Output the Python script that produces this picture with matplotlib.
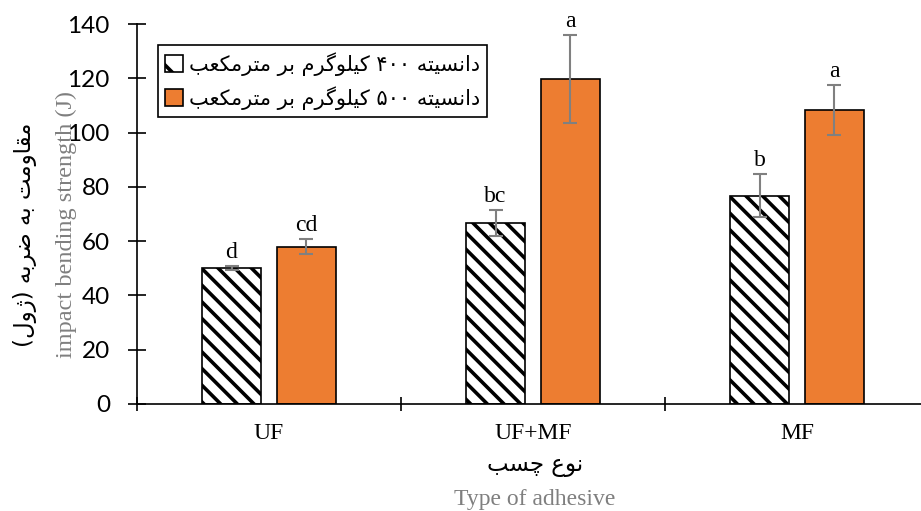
import re
import numpy as np
import matplotlib
matplotlib.use("Agg")
import matplotlib.pyplot as plt
from matplotlib.patches import Patch

# ---------------- data ----------------
categories = ["UF", "UF+MF", "MF"]
values_400 = [50.0, 66.7, 76.8]
errors_400 = [0.8, 4.8, 8.0]
values_500 = [58.0, 119.7, 108.3]
errors_500 = [2.7, 16.2, 9.3]
letters_400 = ["d", "bc", "b"]
letters_500 = ["cd", "a", "a"]
series_labels = ["دانسیته ۴۰۰ کیلوگرم بر مترمکعب", "دانسیته ۵۰۰ کیلوگرم بر مترمکعب"]
ylabel_fa = "مقاومت به ضربه (ژول)"
ylabel_en = "impact bending strength (J)"
xlabel_fa = "نوع چسب"
xlabel_en = "Type of adhesive"
yticks = [0, 20, 40, 60, 80, 100, 120, 140]

# ---------------- simple Persian shaping ----------------
FORMS = {
    "\u0627": ("\uFE8D", "\uFE8E", None, None),
    "\u0628": ("\uFE8F", "\uFE90", "\uFE91", "\uFE92"),
    "\u062A": ("\uFE95", "\uFE96", "\uFE97", "\uFE98"),
    "\u0686": ("\uFB7A", "\uFB7B", "\uFB7C", "\uFB7D"),
    "\u062F": ("\uFEA9", "\uFEAA", None, None),
    "\u0631": ("\uFEAD", "\uFEAE", None, None),
    "\u0698": ("\uFB8A", "\uFB8B", None, None),
    "\u0633": ("\uFEB1", "\uFEB2", "\uFEB3", "\uFEB4"),
    "\u0636": ("\uFEBD", "\uFEBE", "\uFEBF", "\uFEC0"),
    "\u0639": ("\uFEC9", "\uFECA", "\uFECB", "\uFECC"),
    "\u0642": ("\uFED5", "\uFED6", "\uFED7", "\uFED8"),
    "\u06A9": ("\uFB8E", "\uFB8F", "\uFB90", "\uFB91"),
    "\u06AF": ("\uFB92", "\uFB93", "\uFB94", "\uFB95"),
    "\u0644": ("\uFEDD", "\uFEDE", "\uFEDF", "\uFEE0"),
    "\u0645": ("\uFEE1", "\uFEE2", "\uFEE3", "\uFEE4"),
    "\u0646": ("\uFEE5", "\uFEE6", "\uFEE7", "\uFEE8"),
    "\u0647": ("\uFEE9", "\uFEEA", "\uFEEB", "\uFEEC"),
    "\u0648": ("\uFEED", "\uFEEE", None, None),
    "\u06CC": ("\uFBFC", "\uFBFD", "\uFBFE", "\uFBFF"),
}


def shape(s):
    out = []
    for i, c in enumerate(s):
        if c not in FORMS:
            out.append(c)
            continue
        prev = s[i - 1] if i > 0 else None
        nxt = s[i + 1] if i + 1 < len(s) else None
        jp = prev in FORMS and FORMS[prev][2] is not None
        jn = nxt in FORMS and FORMS[c][2] is not None
        iso, fin, ini, med = FORMS[c]
        if jp and jn:
            out.append(med)
        elif jp:
            out.append(fin)
        elif jn:
            out.append(ini)
        else:
            out.append(iso)
    return "".join(out)


def rtl(s):
    shaped = shape(s)
    tokens = re.findall(r"[0-9\u06F0-\u06F9A-Za-z]+|.", shaped)
    mirror = {"(": ")", ")": "("}
    return "".join(mirror.get(t, t) for t in reversed(tokens))


# ---------------- figure ----------------
plt.rcParams["hatch.linewidth"] = 2.6
plt.rcParams["hatch.color"] = "black"
FA = ["DejaVu Sans"]
SERIF = ["Liberation Serif", "DejaVu Serif"]

W, H = 921, 511
fig = plt.figure(figsize=(W / 100, H / 100), dpi=100)
ax = fig.add_axes([137 / W, 1 - 404 / H, (929 - 137) / W, (404 - 24) / H])

x = np.arange(len(categories))
bw = 0.227
off = 0.142
orange = "#ED7D31"
ecol = "#808080"
HATCH = "\\\\"

ax.bar(x - off, values_400, bw, facecolor="white", edgecolor="black",
       hatch=HATCH, linewidth=1.2, zorder=2)
ax.bar(x + off, values_500, bw, facecolor=orange, edgecolor="black",
       linewidth=1.2, zorder=2)
ax.errorbar(x - off, values_400, yerr=errors_400, fmt="none", ecolor=ecol,
            elinewidth=1.5, capsize=5, capthick=1.5, zorder=3)
ax.errorbar(x + off, values_500, yerr=errors_500, fmt="none", ecolor=ecol,
            elinewidth=1.5, capsize=5, capthick=1.5, zorder=3)

for xi, v, e, t in zip(x - off, values_400, errors_400, letters_400):
    ax.text(xi, v + e + 3.0, t, ha="center", va="baseline", fontsize=17,
            family=SERIF, color="black")
for xi, v, e, t in zip(x + off, values_500, errors_500, letters_500):
    ax.text(xi, v + e + 3.0, t, ha="center", va="baseline", fontsize=17,
            family=SERIF, color="black")

ax.set_xlim(-0.5, 2.5)
ax.set_ylim(0, 140)
ax.set_yticks(yticks)
ax.set_yticklabels([str(t) for t in yticks], family=["Lato"], fontsize=17.5)
ax.tick_params(axis="y", direction="inout", length=13, width=1.2, pad=13)

ax.set_xticks([-0.5, 0.5, 1.5, 2.5])
ax.set_xticklabels([])
ax.tick_params(axis="x", which="major", direction="inout", length=10, width=1.2)
ax.set_xticks(x, minor=True)
ax.set_xticklabels(categories, minor=True, family=SERIF, fontsize=17)
ax.tick_params(axis="x", which="minor", length=0, pad=14)

for s in ["top", "right"]:
    ax.spines[s].set_visible(False)
for s in ["left", "bottom"]:
    ax.spines[s].set_linewidth(1.2)

# labels
fig.text(25 / W, 1 - 235 / H, rtl(ylabel_fa), rotation=90, ha="center",
         va="center", fontsize=16.5, family=FA, color="black")
fig.text(66 / W, 1 - 224 / H, ylabel_en, rotation=90, ha="center",
         va="center", fontsize=17.5, family=SERIF, color="#7f7f7f")
fig.text(535 / W, 1 - 465 / H, rtl(xlabel_fa), ha="center", va="center",
         fontsize=16.5, family=FA, color="black")
fig.text(535 / W, 1 - 505 / H, xlabel_en, ha="center", va="baseline",
         fontsize=17, family=SERIF, color="#7f7f7f")

handles = [Patch(facecolor="white", edgecolor="black", hatch="\\", linewidth=1.2),
           Patch(facecolor=orange, edgecolor="black", linewidth=1.2)]
leg = ax.legend(handles, [rtl(s) for s in series_labels], loc="upper left",
                bbox_to_anchor=(0.026, 0.946), frameon=True, fancybox=False,
                framealpha=1, edgecolor="black", prop={"family": FA, "size": 15},
                handlelength=0.85, handleheight=0.85, handletextpad=0.3,
                borderpad=0.35, labelspacing=0.5, borderaxespad=0)
leg.get_frame().set_linewidth(1.2)

fig.savefig("out.png", dpi=100)
